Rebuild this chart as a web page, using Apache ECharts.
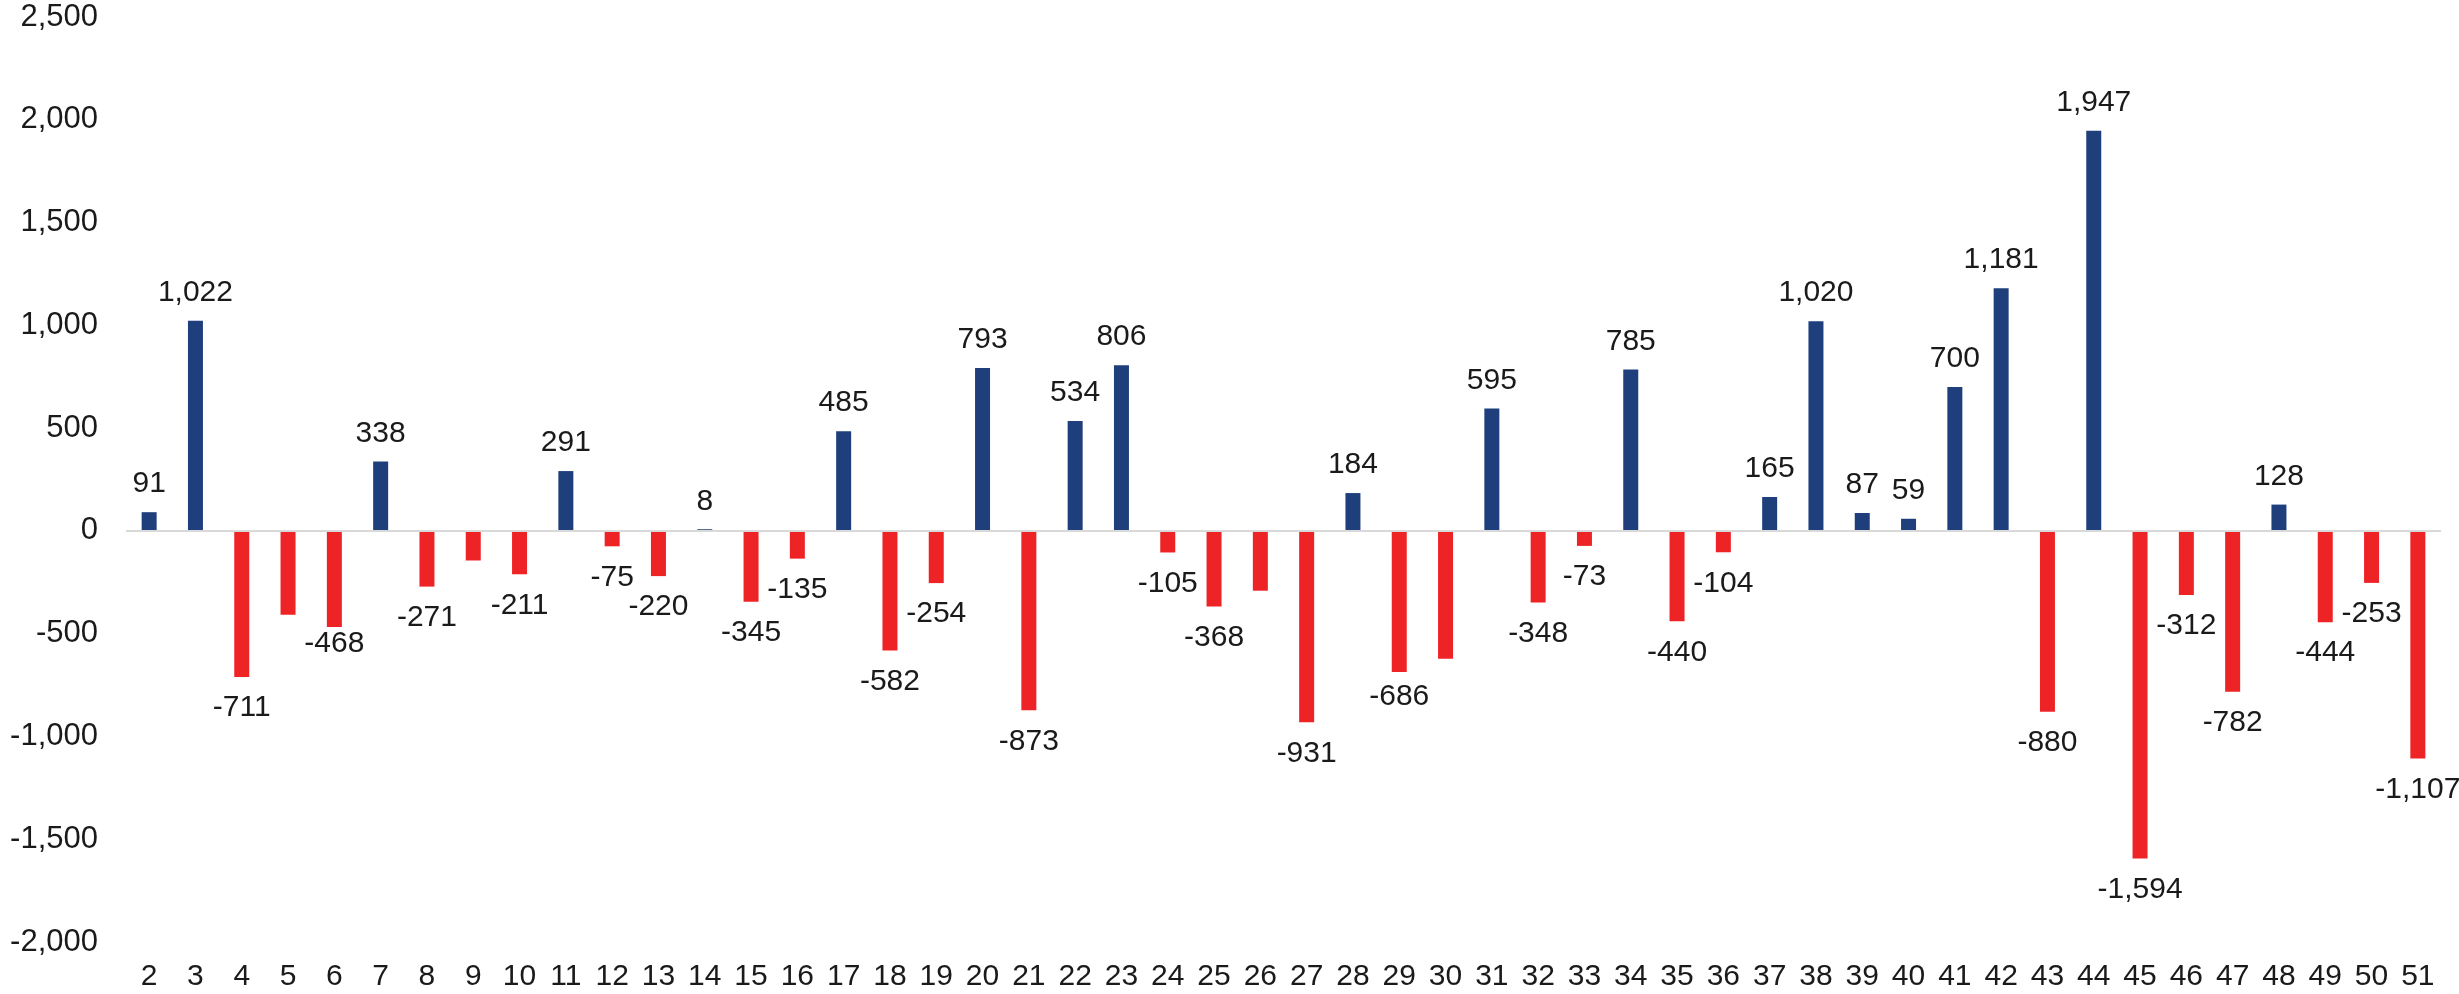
<!DOCTYPE html>
<html>
<head>
<meta charset="utf-8">
<script src="https://cdn.jsdelivr.net/npm/echarts@6/dist/echarts.min.js"></script>
<style>
html,body{margin:0;padding:0;background:#fff;}
#chart{width:2459px;height:994px;}
</style>
</head>
<body>
<div id="chart"></div>
<script>
var categories = ['2','3','4','5','6','7','8','9','10','11','12','13','14','15','16','17','18','19','20','21','22','23','24','25','26','27','28','29','30','31','32','33','34','35','36','37','38','39','40','41','42','43','44','45','46','47','48','49','50','51'];
var values = [91,1022,-711,-408,-468,338,-271,-144,-211,291,-75,-220,8,-345,-135,485,-582,-254,793,-873,534,806,-105,-368,-291,-931,184,-686,-622,595,-348,-73,785,-440,-104,165,1020,87,59,700,1181,-880,1947,-1594,-312,-782,128,-444,-253,-1107];
var unlabeled = ['5','9','26','30'];
var labelShiftY = {'6': -14, '29': -6};
var yTicks = {min: -2000, max: 2500, interval: 500};

var positiveColor = '#1F3F7C';
var negativeColor = '#EE2326';

function fmt(v){
  var s = Math.abs(v).toString().replace(/\B(?=(\d{3})+(?!\d))/g, ',');
  return (v < 0 ? '-' : '') + s;
}

var data = values.map(function(v, i){
  var cat = categories[i];
  var neg = v < 0;
  return {
    value: v,
    itemStyle: {color: neg ? negativeColor : positiveColor},
    label: {
      show: unlabeled.indexOf(cat) < 0,
      position: neg ? 'bottom' : 'top',
      distance: neg ? 16 : 13,
      offset: [0, labelShiftY[cat] || 0]
    }
  };
});

var chart = echarts.init(document.getElementById('chart'));
chart.setOption({
  backgroundColor: '#ffffff',
  animation: false,
  grid: {left: 126, right: 18, top: 17, bottom: 52, containLabel: false},
  xAxis: {
    type: 'category',
    data: categories,
    axisLine: {show: false, onZero: false},
    axisTick: {show: false},
    axisLabel: {interval: 0, margin: 20, fontFamily: 'Liberation Sans', fontSize: 30, color: '#1a1a1a'}
  },
  yAxis: {
    type: 'value',
    min: yTicks.min, max: yTicks.max, interval: yTicks.interval,
    axisLine: {show: false},
    axisTick: {show: false},
    splitLine: {show: false},
    axisLabel: {margin: 28, fontFamily: 'Liberation Sans', fontSize: 31, color: '#1a1a1a', formatter: function(v){ return fmt(v); }}
  },
  series: [{
    type: 'bar',
    data: data,
    barWidth: 15,
    label: {
      fontFamily: 'Liberation Sans', fontSize: 30, lineHeight: 30, color: '#1a1a1a',
      formatter: function(p){ return fmt(p.value); }
    },
    markLine: {
      silent: true,
      symbol: ['none','none'],
      label: {show: false},
      lineStyle: {color: '#D9D9D9', width: 2, type: 'solid'},
      data: [{yAxis: 0}]
    }
  }]
});
</script>
</body>
</html>
